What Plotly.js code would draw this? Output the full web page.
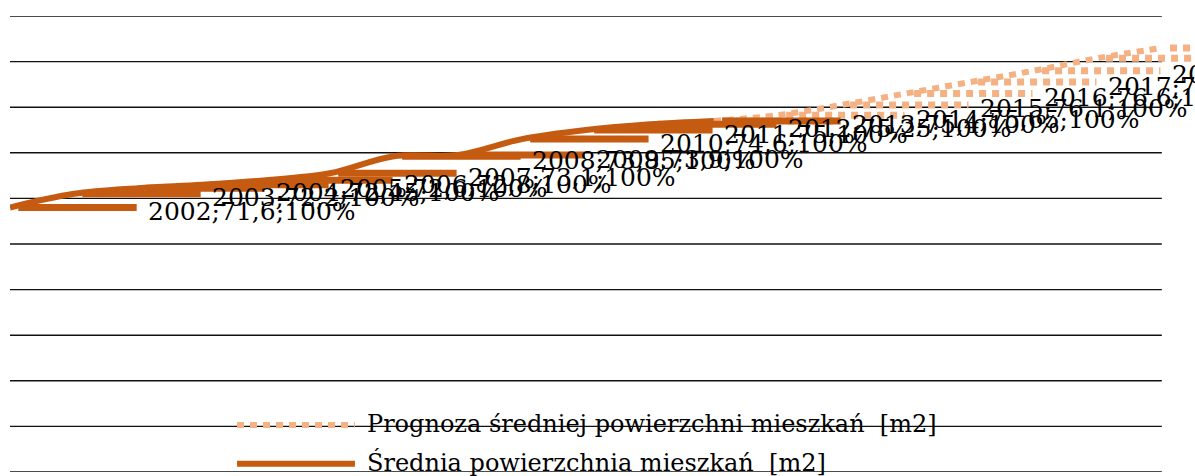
<!DOCTYPE html>
<html>
<head>
<meta charset="utf-8">
<script src="https://cdn.plot.ly/plotly-3.0.1.min.js"></script>
<style>
	html, body { margin: 0; padding: 0; background: #fff; }
	#chart { width: 1195px; height: 476px; }
</style>
</head>
<body>
<div id="chart"></div>
<script>
// actual values
var years = [2002, 2003, 2004, 2005, 2006, 2007, 2008, 2009, 2010, 2011, 2012, 2013];
var area = [71.6, 72.2, 72.45, 72.6, 72.8, 73.1, 73.85, 73.9, 74.6, 75.0, 75.25, 75.4];

// forecast
var fyears = [2013, 2014, 2015, 2016, 2017, 2018, 2019, 2020];
var farea = [75.4, 75.65, 76.1, 76.6, 77.1, 77.6, 78.15, 78.6];

var names = ["Prognoza średniej powierzchni mieszkań  [m2]", "Średnia powierzchnia mieszkań  [m2]"];
var gridvals = [60, 62, 64, 66, 68, 70, 72, 74, 76, 78, 80];

var solid = "#C55A11";
var light = "#F4B183";
var font = "DejaVu Serif";

// data label text: year;value;100%
function labeltext(y, v) {
	return y + ";" + String(v).replace(".", ",") + ";100%";
}

// little key segments drawn in front of every data label
function keys(xs, ys) {
	var kx = [], ky = [];
	for (var i = 0; i < xs.length; i++) {
		kx.push(xs[i] + 0.13, xs[i] + 1.98, null);
		ky.push(ys[i], ys[i], null);
	}
	return {x: kx, y: ky};
}

var k1 = keys(years, area);
var k2 = keys(fyears, farea);

var plot_area = {
	mode: "lines",
	x: years,
	y: area,
	name: names[1],
	line: {shape: "spline", color: solid, width: 6}
};

var plot_forecast = {
	mode: "lines",
	x: fyears,
	y: farea,
	name: names[0],
	line: {shape: "spline", color: light, width: 6, dash: "7px,6px"}
};

var keys_area = {
	mode: "lines",
	x: k1.x,
	y: k1.y,
	connectgaps: false,
	hoverinfo: "skip",
	line: {color: solid, width: 7}
};

var keys_forecast = {
	mode: "lines",
	x: k2.x,
	y: k2.y,
	connectgaps: false,
	hoverinfo: "skip",
	line: {color: light, width: 7, dash: "7px,6px"}
};

var annotations = [];
for (var i = 0; i < years.length; i++) {
	annotations.push({
		x: years[i] + 2.13, y: area[i], xref: "x", yref: "y",
		text: labeltext(years[i], area[i]),
		showarrow: false, xanchor: "left", yanchor: "middle", yshift: -4,
		font: {family: font, size: 25, color: "#000"}
	});
}
for (var i = 1; i < fyears.length; i++) {
	annotations.push({
		x: fyears[i] + 2.13, y: farea[i], xref: "x", yref: "y",
		text: labeltext(fyears[i], farea[i]),
		showarrow: false, xanchor: "left", yanchor: "middle", yshift: -4,
		font: {family: font, size: 25, color: "#000"}
	});
}

// hand made legend
var legy = [0.103, 0.018];
var legcol = [light, solid];
var legdash = ["7px,6px", "solid"];
var shapes = [];
for (var i = 0; i < gridvals.length; i++) {
	shapes.push({
		type: "line", layer: "below", xref: "paper", yref: "y",
		x0: 0, x1: 0.972, y0: gridvals[i], y1: gridvals[i],
		line: {color: "#111", width: 1.4}
	});
}
for (var i = 0; i < names.length; i++) {
	shapes.push({
		type: "line", xref: "paper", yref: "paper",
		x0: 0.1916, x1: 0.2911, y0: legy[i], y1: legy[i],
		line: {color: legcol[i], width: 6, dash: legdash[i]}
	});
	annotations.push({
		x: 0.2996, y: legy[i] + 0.002, xref: "paper", yref: "paper",
		text: names[i], showarrow: false, xanchor: "left", yanchor: "middle",
		font: {family: font, size: 24, color: "#000"}
	});
}

var layout = {
	width: 1195,
	height: 476,
	margin: {l: 10, r: 0, t: 16, b: 4, pad: 0},
	paper_bgcolor: "#fff",
	plot_bgcolor: "#fff",
	showlegend: false,
	xaxis: {
		range: [2002, 2020.52],
		showgrid: false, zeroline: false, showticklabels: false, showline: false, ticks: ""
	},
	yaxis: {
		range: [60, 80],
		showgrid: false, zeroline: false, showticklabels: false, showline: false, ticks: ""
	},
	shapes: shapes,
	annotations: annotations
};

Plotly.newPlot("chart", [keys_forecast, plot_forecast, keys_area, plot_area], layout, {displayModeBar: false, staticPlot: true});
</script>
</body>
</html>
